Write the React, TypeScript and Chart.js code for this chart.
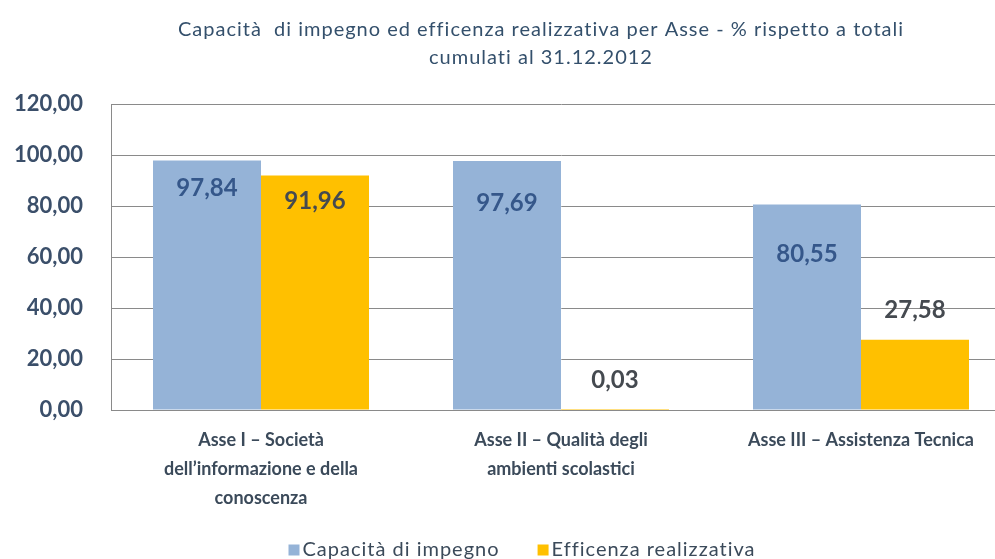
import React, { useEffect, useRef } from 'react';
import { Chart, registerables } from 'chart.js';

Chart.register(...registerables);

const categories: string[][] = [
  ['Asse I – Società', 'dell’informazione e della', 'conoscenza'],
  ['Asse II – Qualità degli', 'ambienti scolastici'],
  ['Asse III – Assistenza Tecnica'],
];
const capacitaImpegno = [97.84, 97.69, 80.55];
const efficenzaRealizzativa = [91.96, 0.03, 27.58];
const seriesNames = ['Capacità di impegno', 'Efficenza realizzativa'];
const titleLines = [
  'Capacità  di impegno ed efficenza realizzativa per Asse - % rispetto a totali',
  'cumulati al 31.12.2012',
];
const yMin = 0;
const yMax = 120;
const yStep = 20;

// label vertical shifts relative to bar top (px; positive = below top, inside bar)
const capacitaLabelShift = [28, 42, 50];
const efficenzaLabelShift = [26, -30, -29];

const FONT = 'Lato, "DejaVu Sans", sans-serif';
const BLUE = '#95B3D7';
const YELLOW = '#FFC000';
const GRID = '#8a8a8a';

const fmt = (v: number) => v.toFixed(2).replace('.', ',');

const titlePlugin = {
  id: 'customTitle',
  afterDraw(chart: any) {
    const ctx = chart.ctx;
    ctx.save();
    ctx.font = `normal 20px ${FONT}`;
    (ctx as any).letterSpacing = '1px';
    ctx.fillStyle = '#34506C';
    ctx.textAlign = 'center';
    ctx.textBaseline = 'middle';
    ctx.fillText(titleLines[0], 541, 30);
    ctx.fillText(titleLines[1], 541, 58);
    ctx.restore();
  },
};

const legendPlugin = {
  id: 'customLegend',
  afterDraw(chart: any) {
    const ctx = chart.ctx;
    ctx.save();
    ctx.font = `normal 20px ${FONT}`;
    (ctx as any).letterSpacing = '1px';
    ctx.textBaseline = 'middle';
    ctx.textAlign = 'left';
    const box = 11;
    const gap = 3;
    const itemGap = 38;
    const ds = chart.data.datasets;
    const widths = ds.map((d: any) => box + gap + ctx.measureText(d.label).width);
    const total = widths.reduce((a: number, b: number) => a + b, 0) + itemGap * (ds.length - 1);
    let x = 522 - total / 2;
    const y = 550;
    ds.forEach((d: any, i: number) => {
      ctx.fillStyle = d.backgroundColor;
      ctx.fillRect(x, y - box / 2, box, box);
      ctx.fillStyle = '#3B4A5A';
      ctx.fillText(d.label, x + box + gap, y);
      x += widths[i] + itemGap;
    });
    ctx.restore();
  },
};

const dataLabelPlugin = {
  id: 'dataLabels',
  afterDatasetsDraw(chart: any) {
    const ctx = chart.ctx;
    ctx.save();
    ctx.font = `bold 24px ${FONT}`;
    ctx.textAlign = 'center';
    ctx.textBaseline = 'middle';
    const shifts = [capacitaLabelShift, efficenzaLabelShift];
    const colors = ['#35578A', '#454a50'];
    chart.data.datasets.forEach((d: any, di: number) => {
      const meta = chart.getDatasetMeta(di);
      meta.data.forEach((el: any, i: number) => {
        ctx.fillStyle = colors[di];
        ctx.fillText(fmt(d.data[i]), el.x, el.y + shifts[di][i]);
      });
    });
    ctx.restore();
  },
};

export default function App() {
  const ref = useRef<HTMLCanvasElement>(null);

  useEffect(() => {
    if (!ref.current) return;
    const chart = new Chart(ref.current, {
      type: 'bar',
      data: {
        labels: categories,
        datasets: [
          {
            label: seriesNames[0],
            data: capacitaImpegno,
            backgroundColor: BLUE,
            borderWidth: 0,
            categoryPercentage: 0.72,
            barPercentage: 1,
          },
          {
            label: seriesNames[1],
            data: efficenzaRealizzativa,
            backgroundColor: YELLOW,
            borderWidth: 0,
            categoryPercentage: 0.72,
            barPercentage: 1,
          },
        ],
      },
      options: {
        responsive: false,
        animation: false,
        layout: { padding: { top: 104, right: 19, left: 0, bottom: 0 } },
        plugins: {
          legend: { display: false },
          title: { display: false },
          tooltip: { enabled: false },
        },
        scales: {
          x: {
            grid: { display: false, drawTicks: false },
            border: { display: true, color: GRID },
            ticks: {
              color: '#3B4A5A',
              font: { family: FONT, size: 18, weight: 'bold', lineHeight: 1.6 },
              padding: 16,
              maxRotation: 0,
              autoSkip: false,
            },
            afterFit: (s: any) => {
              s.height = 149;
            },
          },
          y: {
            min: yMin,
            max: yMax,
            grid: { color: GRID, lineWidth: 1, drawTicks: false },
            border: { display: true, color: GRID },
            ticks: {
              stepSize: yStep,
              color: '#3B4F6A',
              font: { family: FONT, size: 22, weight: 'bold' },
              padding: 28,
              callback: (v: any) => fmt(Number(v)),
            },
            afterFit: (s: any) => {
              s.width = 111;
            },
          },
        },
      },
      plugins: [dataLabelPlugin, titlePlugin, legendPlugin],
    } as any);
    return () => chart.destroy();
  }, []);

  return (
    <div
      style={{
        position: 'fixed',
        left: 0,
        top: 0,
        width: 995,
        height: 559,
        overflow: 'hidden',
        background: '#fff',
      }}
    >
      <canvas ref={ref} width={1030} height={559} style={{ display: 'block' }} />
    </div>
  );
}
